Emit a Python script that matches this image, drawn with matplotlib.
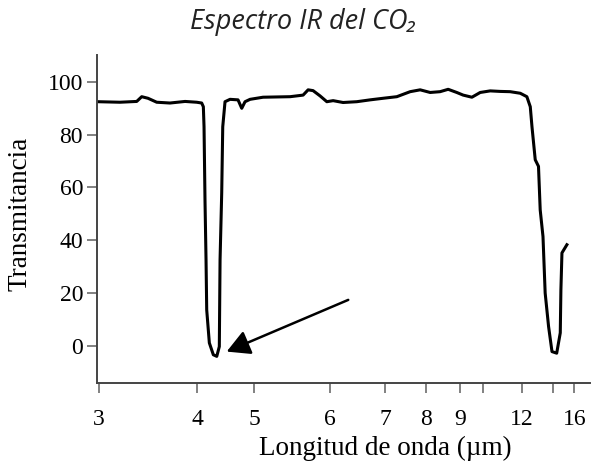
import numpy as np
import matplotlib
matplotlib.use("Agg")
import matplotlib.pyplot as plt

# Espectro IR del CO2
longitud = [2.99, 3.214, 3.385, 3.436, 3.5, 3.589, 3.724, 3.878, 3.997, 4.082,
            4.111, 4.123, 4.14, 4.158, 4.170, 4.216, 4.286, 4.346, 4.391, 4.404,
            4.433, 4.451, 4.491, 4.579, 4.719, 4.784, 4.842, 4.93, 5.118, 5.474,
            5.645, 5.711, 5.776, 5.868, 5.957, 6.055, 6.236, 6.485, 6.727, 6.964,
            7.285, 7.61, 7.854, 8.118, 8.41, 8.647, 8.9, 9.13, 9.51, 9.87,
            10.36, 10.87, 11.38, 11.9, 12.3, 12.52, 12.63, 12.84, 13.05, 13.16,
            13.34, 13.48, 13.7, 13.92, 14.33, 14.67, 14.73, 14.83, 15.3]
transmitancia = [92.5, 92.3, 92.6, 94.4, 93.8, 92.3, 92.0, 92.6, 92.3, 92.0,
                 90.6, 83, 55, 32.6, 13.6, 1.1, -3.4, -4.0, -0.3, 32.6,
                 58, 83, 92.5, 93.4, 93.2, 90.0, 92.5, 93.4, 94.2, 94.4,
                 95.0, 97.0, 96.7, 94.7, 92.5, 92.9, 92.2, 92.5, 93.2, 93.8,
                 94.4, 96.3, 97.0, 96.0, 96.3, 97.2, 96.0, 95.0, 94.2, 96.0,
                 96.6, 96.4, 96.3, 95.7, 94.4, 90.6, 83, 70.5, 68, 51.5,
                 41.4, 20, 7.3, -2.2, -2.8, 4.9, 21.2, 35.2, 38.3]

ticks_x = [3, 4, 5, 6, 7, 8, 9, 12, 16]
ticks_x_menores = [10, 14]
ticks_y = [0, 20, 40, 60, 80, 100]

# eje x irregular del original: posicion relativa de cada valor
valores_eje = [2.5, 3, 4, 5, 6, 7, 8, 9, 10, 12, 14, 16, 20]
posic_eje = [50, 99, 197, 254, 330, 385, 426, 460, 483, 522, 553, 574, 616]


def forward(x):
    return np.interp(x, valores_eje, posic_eje)


def inverse(p):
    return np.interp(p, posic_eje, valores_eje)


fig = plt.figure(figsize=(5.94, 4.66), dpi=100)
ax = fig.add_axes([97 / 594, 1 - 383 / 466, 493 / 594, 328 / 466])

ax.set_xscale("function", functions=(forward, inverse))
ax.plot(longitud, transmitancia, color="black", lw=2.2,
        solid_joinstyle="round")

ax.annotate("", xy=(4.52, -2.2), xytext=(6.33, 17.4),
            arrowprops=dict(arrowstyle="-|>,head_length=0.7,head_width=0.38",
                            color="black", lw=1.8, shrinkA=0, shrinkB=0,
                            mutation_scale=20))

ax.set_xlim(2.98, 17.5)
ax.set_ylim(-14.1, 110.2)

ax.set_xticks(ticks_x)
ax.set_xticklabels([str(t) for t in ticks_x])
ax.set_xticks(ticks_x_menores, minor=True)
ax.set_yticks(ticks_y)

for lado in ["top", "right"]:
    ax.spines[lado].set_visible(False)
for lado in ["left", "bottom"]:
    ax.spines[lado].set_color("#444444")
    ax.spines[lado].set_linewidth(1.4)

serif = "Liberation Serif"
ax.tick_params(axis="both", which="both", direction="out", length=7,
               width=1.3, color="#777777", labelsize=17, pad=3)
ax.tick_params(axis="x", which="major", pad=12)
for lab in ax.get_xticklabels() + ax.get_yticklabels():
    lab.set_fontfamily(serif)

ax.set_xlabel("Longitud de onda (µm)", fontsize=19.5, fontfamily=serif)
ax.set_ylabel("Transmitancia", fontsize=19.5, fontfamily=serif)
ax.xaxis.set_label_coords(0.584, -0.16)
ax.yaxis.set_label_coords(-0.13, 0.515)

fig.text(303 / 594, 1 - 22 / 466, "Espectro IR del CO₂", fontsize=19.5,
         style="italic", family=["Open Sans", "DejaVu Sans"],
         ha="center", va="center", color="#222222")

fig.savefig("out.png", dpi=100)
